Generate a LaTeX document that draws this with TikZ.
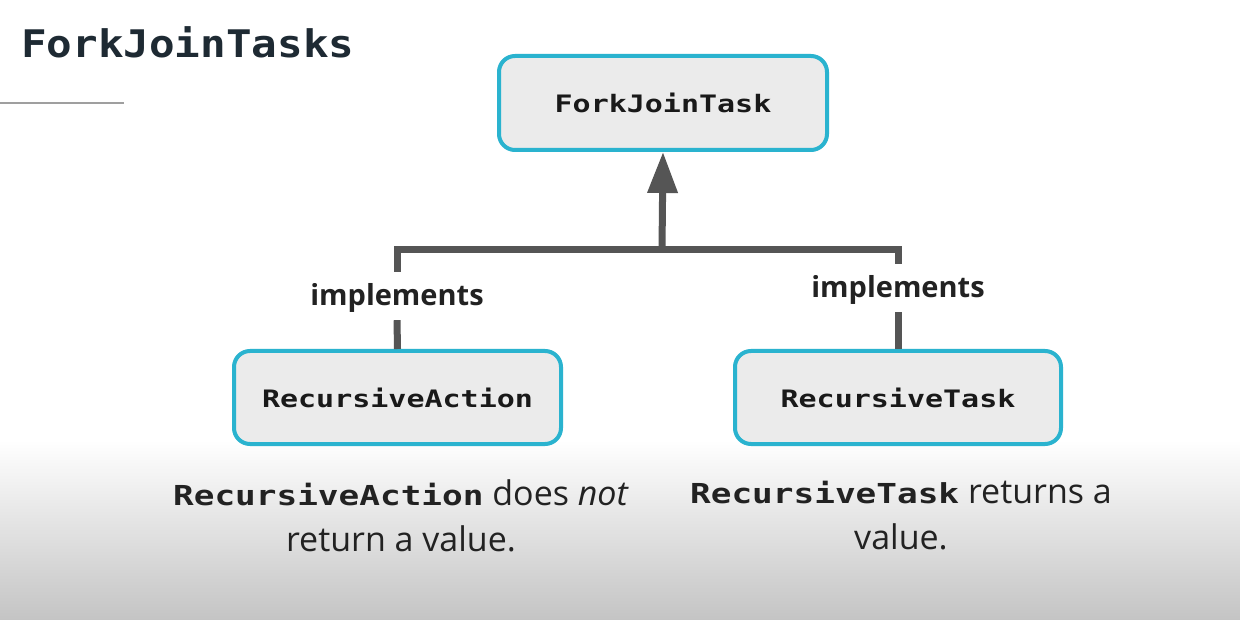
\documentclass[tikz,border=0pt]{standalone}
\usepackage{fontspec}
\setmainfont{Open Sans}
\newfontfamily\codefont[FakeStretch=1.25]{DejaVu Sans Mono}
\newfontfamily\titlefont[FakeStretch=1.12]{DejaVu Sans Mono}
\usetikzlibrary{arrows.meta}
\definecolor{boxfill}{HTML}{EBEBEB}
\definecolor{boxedge}{HTML}{2AB3CF}
\definecolor{linecol}{HTML}{555555}
\definecolor{titlecol}{HTML}{1E2A33}
\definecolor{txtcol}{HTML}{222222}
\definecolor{bottomgray}{HTML}{C4C4C4}
\tikzset{
  classbox/.style={draw=boxedge, line width=4pt, fill=boxfill, rounded corners=16pt,
    inner sep=0pt, font=\codefont\bfseries\fontsize{24}{26}\selectfont, text=black!90},
  implabel/.style={font=\bfseries\fontsize{29}{32}\selectfont, text=txtcol, inner xsep=2pt,
    inner ysep=8pt, text height=26pt, text depth=6pt, anchor=base},
  connector/.style={draw=linecol, line width=7pt},
  caption/.style={align=center, text=txtcol, font=\fontsize{34}{46}\selectfont, inner sep=0pt}
}
\newcommand{\capcode}[1]{{\codefont\bfseries\fontsize{27.5}{46}\selectfont #1}}
\begin{document}
\begin{tikzpicture}[x=1pt,y=-1pt]
\useasboundingbox (0,0) rectangle (1240,620);
\fill[white] (0,0) rectangle (1240,440);
\shade[top color=white, bottom color=bottomgray] (0,440) rectangle (1240,620);
% title
\node[anchor=base west, inner sep=0pt, text=titlecol, font=\titlefont\bfseries\fontsize{38}{40}\selectfont] (title) at (21,58) {ForkJoinTasks};
\draw[gray!75, line width=2pt] (0,103) coordinate (rulea) -- (124,103) coordinate (ruleb);
% boxes
\node[classbox, minimum width=328pt, minimum height=94pt] (top) at (663,103) {ForkJoinTask};
\node[classbox, minimum width=327pt, minimum height=93pt] (left) at (397.5,397.5) {RecursiveAction};
\node[classbox, minimum width=326pt, minimum height=93pt] (right) at (898,397.5) {RecursiveTask};
% labels
\node[implabel] (la) at (397,306) {implements};
\node[implabel] (lb) at (898,298) {implements};
\coordinate (j) at (662,250);
% connectors
\draw[connector] (la.north) |- (j) -| (lb.north);
\draw[connector] (la.south) -- (left.north);
\draw[connector] (lb.south) -- (right.north);
\draw[connector, -{Triangle[length=41pt,width=29pt]}] (j) -- (top.south);
% captions
\node[caption] (capl) at (401,516) {\capcode{RecursiveAction} does \textit{not}\\return a value.};
\node[caption] (capr) at (901,516) {\capcode{RecursiveTask} returns a\\value.};
\end{tikzpicture}
\end{document}
